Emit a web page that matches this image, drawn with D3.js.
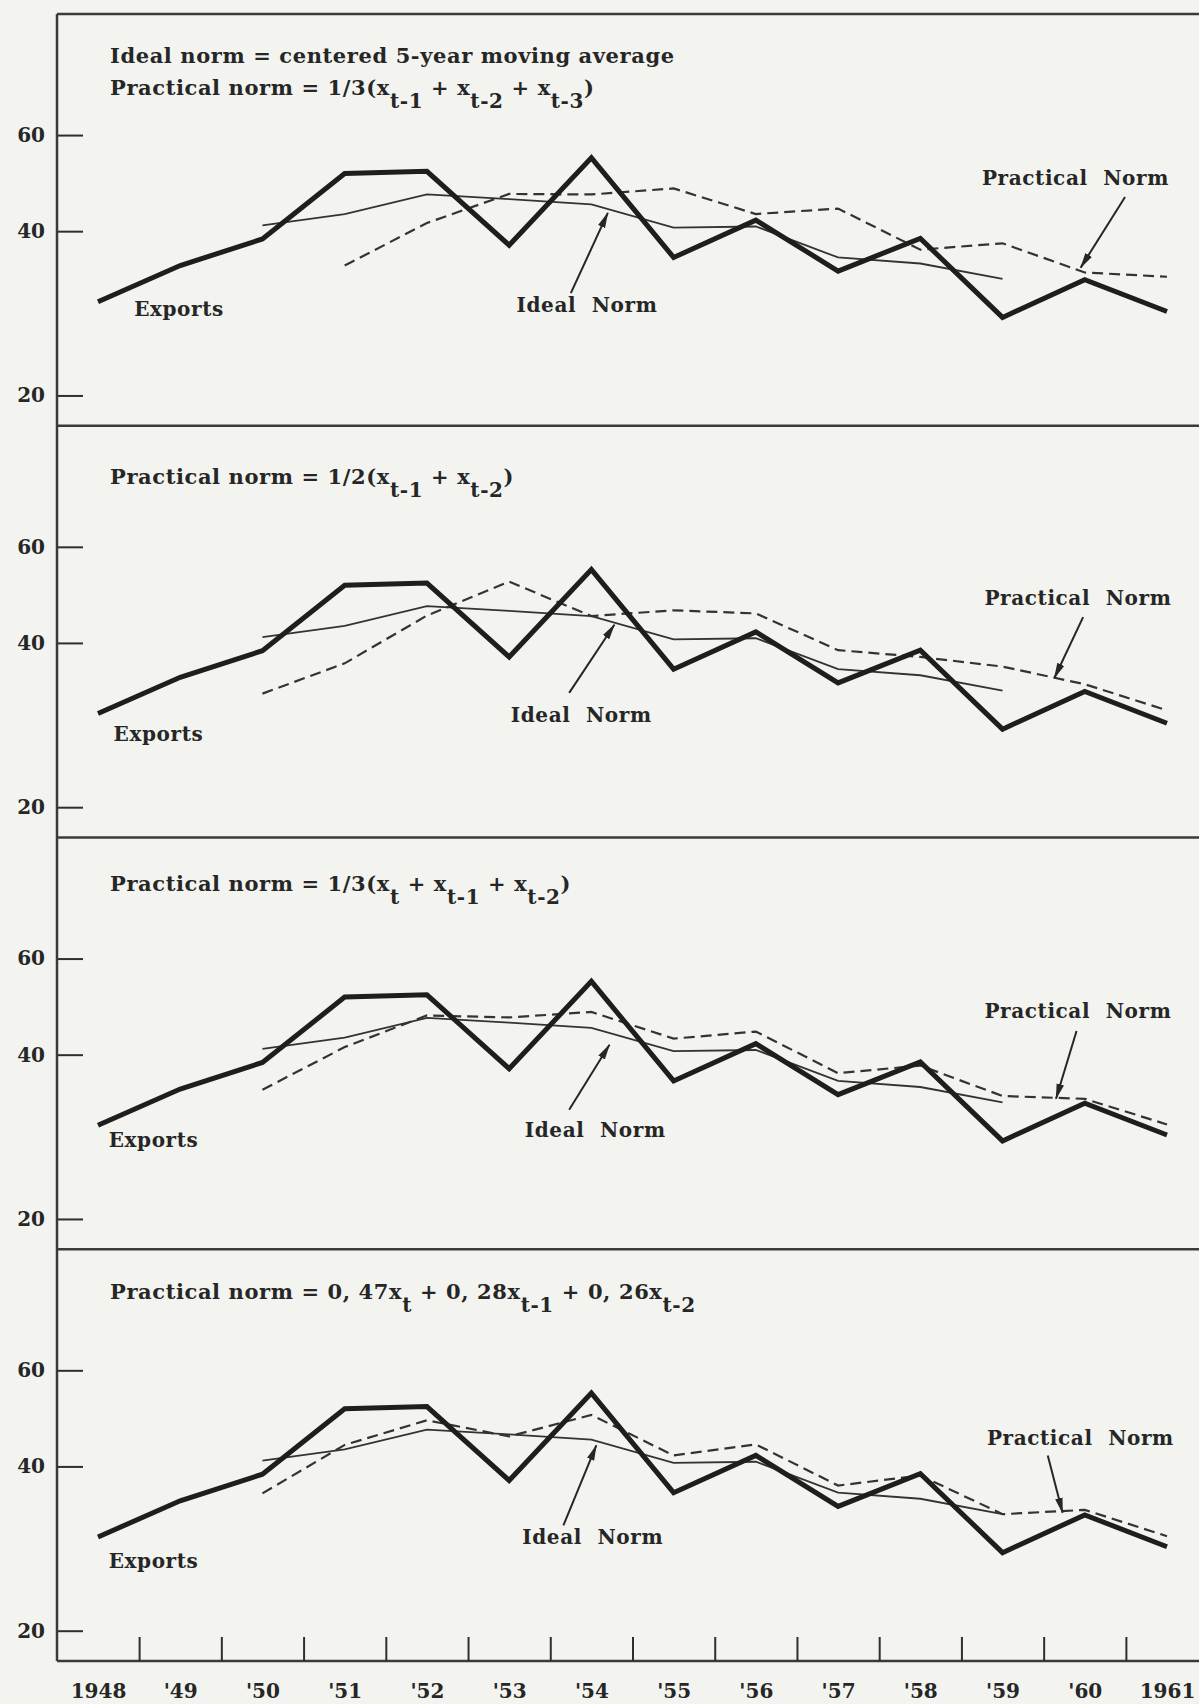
<!DOCTYPE html>
<html>
  <head>
    <meta charset="utf-8">
    <script src="https://d3js.org/d3.v7.min.js"></script>
    <style>
      body { margin: 0; background: #f3f4f0; }
      svg { display: block; }
      .axis path { display: none; }
      .axis line { stroke: #2e2e2e; stroke-width: 2; }
      .axis text {
        font-family: "DejaVu Serif", serif;
        font-weight: bold;
        font-size: 20px;
        fill: #262626;
      }
      .frame { stroke: #3a3a3a; stroke-width: 2.5; fill: none; }
      .exports { fill: none; stroke: #1e1e1e; stroke-width: 5; stroke-linejoin: miter; }
      .ideal { fill: none; stroke: #333; stroke-width: 1.8; }
      .practical { fill: none; stroke: #333; stroke-width: 2.2; stroke-dasharray: 11,6; }
      .label {
        font-family: "DejaVu Serif", serif;
        font-weight: bold;
        font-size: 20px;
        fill: #262626;
      }
      .title { font-size: 21px; letter-spacing: 0.6px; }
      .note { letter-spacing: 0.6px; word-spacing: 8px; }
      .arrow { stroke: #262626; stroke-width: 2; }
    </style>
  </head>
  <body>
    <script>

      // years and tick labels
      var years = [1948, 1949, 1950, 1951, 1952, 1953, 1954, 1955, 1956, 1957, 1958, 1959, 1960, 1961];
      var yearLabels = ["1948", "'49", "'50", "'51", "'52", "'53", "'54", "'55", "'56", "'57", "'58", "'59", "'60", "1961"];
      var yTicks = [20, 40, 60];

      // exports (same in every panel)
      var exportsValues = [29.7, 34.6, 38.7, 51.0, 51.5, 37.7, 54.5, 35.8, 41.9, 33.8, 38.8, 27.8, 32.6, 28.5];

      // ideal norm, 1950 - 1959
      var idealYears = [1950, 1951, 1952, 1953, 1954, 1955, 1956, 1957, 1958, 1959];
      var idealNorm = [41.0, 43.0, 46.7, 45.8, 44.8, 40.6, 40.8, 35.8, 34.9, 32.7];

      // practical norms, one per panel
      var practicalStart = [1951, 1950, 1950, 1950];
      var practicalA = [34.6, 41.4, 46.8, 46.7, 47.9, 43.0, 44.0, 37.0, 38.0, 33.6, 33.0];
      var practicalB = [32.3, 36.7, 44.9, 51.8, 44.8, 45.9, 45.3, 38.8, 37.7, 36.2, 33.6, 30.1];
      var practicalC = [34.5, 41.3, 47.2, 46.8, 47.9, 42.8, 44.1, 37.0, 38.2, 33.6, 33.2, 29.8];
      var practicalD = [35.7, 43.8, 48.6, 45.4, 49.7, 41.9, 43.9, 36.9, 38.5, 32.7, 33.3, 29.8];

      // panel headings: plain text pieces and subscripts
      var titles = [
        [
          [{t: "Ideal norm = centered 5-year moving average"}],
          [{t: "Practical norm = 1/3(x"}, {s: "t-1"}, {t: " + x"}, {s: "t-2"}, {t: " + x"}, {s: "t-3"}, {t: ")"}]
        ],
        [[{t: "Practical norm = 1/2(x"}, {s: "t-1"}, {t: " + x"}, {s: "t-2"}, {t: ")"}]],
        [[{t: "Practical norm = 1/3(x"}, {s: "t"}, {t: " + x"}, {s: "t-1"}, {t: " + x"}, {s: "t-2"}, {t: ")"}]],
        [[{t: "Practical norm = 0, 47x"}, {s: "t"}, {t: " + 0, 28x"}, {s: "t-1"}, {t: " + 0, 26x"}, {s: "t-2"}]]
      ];
      var titleOffsets = [[49, 81], [58], [53], [50]];

      // annotation anchors in data units [year, value]
      var exportsLabelAt = [[1948.44, 28.0], [1948.19, 26.5], [1948.13, 27.1], [1948.13, 26.1]];
      var idealLabelAt = [[1953.09, 28.4], [1953.02, 28.6], [1953.19, 28.3], [1953.16, 28.8]];
      var idealArrows = [
        [[1953.75, 30.8], [1954.20, 43.2]],
        [[1953.73, 32.4], [1954.28, 43.2]],
        [[1953.73, 31.7], [1954.22, 41.7]],
        [[1953.66, 31.2], [1954.06, 43.7]]
      ];
      var practicalLabelAt = [[1958.75, 48.6], [1958.78, 47.0], [1958.78, 46.6], [1958.81, 43.7]];
      var practicalArrows = [
        [[1960.49, 46.2], [1959.95, 34.3]],
        [[1959.98, 44.6], [1959.63, 34.5]],
        [[1959.90, 44.2], [1959.65, 33.2]],
        [[1959.55, 41.9], [1959.73, 32.9]]
      ];

      var width = 1199;
      var height = 1704;
      var frame = {left: 57, top: 14, bottom: 1661};
      var panelH = (frame.bottom - frame.top) / 4;

      var x = d3.scaleLinear().domain([1948, 1961]).range([98, 1167]);

      var svg = d3.select("body").append("svg")
          .attr("width", width)
          .attr("height", height);

      svg.append("defs").append("marker")
          .attr("id", "head")
          .attr("markerUnits", "userSpaceOnUse")
          .attr("viewBox", "0 -5 16 10")
          .attr("refX", 15)
          .attr("refY", 0)
          .attr("markerWidth", 16)
          .attr("markerHeight", 10)
          .attr("orient", "auto")
        .append("path")
          .attr("d", "M0,-3.8L16,0L0,3.8Z")
          .attr("fill", "#262626");

      var practicalSets = [practicalA, practicalB, practicalC, practicalD];

      function series(startYear, values) {
        return values.map(function(v, i) { return {year: startYear + i, value: v}; });
      }

      practicalSets.forEach(function(practical, i) {
        var top = frame.top + i * panelH;
        var y = d3.scaleLog().domain([17.6, 100]).range([top + panelH, top]);
        var line = d3.line()
            .x(function(d) { return x(d.year); })
            .y(function(d) { return y(d.value); });

        var g = svg.append("g");

        // y-axis
        g.append("g")
            .attr("class", "axis")
            .attr("transform", "translate(" + frame.left + ",0)")
            .call(d3.axisLeft(y).tickValues(yTicks).tickFormat(d3.format("d"))
              .tickSize(-26).tickPadding(12));

        // lines
        g.append("path")
            .attr("class", "ideal")
            .attr("d", line(idealYears.map(function(yr, j) { return {year: yr, value: idealNorm[j]}; })));

        g.append("path")
            .attr("class", "practical")
            .attr("d", line(series(practicalStart[i], practical)));

        g.append("path")
            .attr("class", "exports")
            .attr("d", line(years.map(function(yr, j) { return {year: yr, value: exportsValues[j]}; })));

        // headings
        titles[i].forEach(function(row, r) {
          var txt = g.append("text")
              .attr("class", "label title")
              .attr("x", 110)
              .attr("y", top + titleOffsets[i][r]);
          var down = false;
          row.forEach(function(piece) {
            if (piece.s) {
              txt.append("tspan").attr("dy", 13).style("font-size", "20px").text(piece.s);
              down = true;
            } else {
              txt.append("tspan").attr("dy", down ? -13 : 0).text(piece.t);
              down = false;
            }
          });
        });

        // labels and arrows
        g.append("text")
            .attr("class", "label note")
            .attr("x", x(exportsLabelAt[i][0]))
            .attr("y", y(exportsLabelAt[i][1]))
            .text("Exports");

        g.append("text")
            .attr("class", "label note")
            .attr("x", x(idealLabelAt[i][0]))
            .attr("y", y(idealLabelAt[i][1]))
            .text("Ideal Norm");

        g.append("text")
            .attr("class", "label note")
            .attr("x", x(practicalLabelAt[i][0]))
            .attr("y", y(practicalLabelAt[i][1]))
            .text("Practical Norm");

        [idealArrows[i], practicalArrows[i]].forEach(function(a) {
          g.append("line")
              .attr("class", "arrow")
              .attr("x1", x(a[0][0])).attr("y1", y(a[0][1]))
              .attr("x2", x(a[1][0])).attr("y2", y(a[1][1]))
              .attr("marker-end", "url(#head)");
        });

        // panel border line
        svg.append("line")
            .attr("class", "frame")
            .attr("x1", frame.left).attr("x2", width)
            .attr("y1", top).attr("y2", top);
      });

      // frame left and bottom
      svg.append("line")
          .attr("class", "frame")
          .attr("x1", frame.left).attr("x2", frame.left)
          .attr("y1", frame.top).attr("y2", frame.bottom);
      svg.append("line")
          .attr("class", "frame")
          .attr("x1", frame.left).attr("x2", width)
          .attr("y1", frame.bottom).attr("y2", frame.bottom);

      // x-axis: ticks between the years, labels under the years
      svg.append("g")
          .attr("class", "axis")
          .attr("transform", "translate(0," + frame.bottom + ")")
          .call(d3.axisBottom(x).tickValues(years.slice(0, -1).map(function(d) { return d + 0.5; }))
            .tickSize(-24).tickFormat(""));

      svg.append("g")
          .attr("class", "axis")
          .attr("transform", "translate(0," + frame.bottom + ")")
          .call(d3.axisBottom(x).tickValues(years)
            .tickFormat(function(d, i) { return yearLabels[i]; })
            .tickSize(0).tickPadding(23));

    </script>
  </body>
</html>
